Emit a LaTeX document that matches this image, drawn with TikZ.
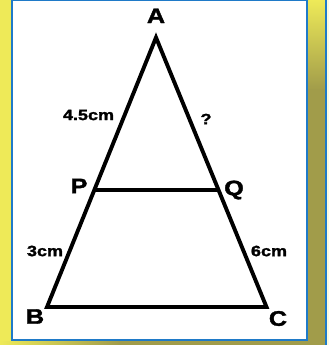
\documentclass[tikz,border=0pt]{standalone}
\usepackage{fontspec}
\setmainfont{Liberation Sans}[BoldFeatures={FakeBold=1.6}]
\usetikzlibrary{calc}
\definecolor{frameblue}{HTML}{1F7AC8}
\definecolor{ylw}{HTML}{EEEA58}
\definecolor{olive}{HTML}{A19C4A}
\tikzset{
  side/.style={line width=3.9pt, line join=miter, black},
  vlabel/.style={inner sep=0pt, font=\fontsize{21}{21}\selectfont\bfseries},
  mlabel/.style={inner sep=0pt, font=\fontsize{15}{15}\selectfont\bfseries},
}
\newcommand{\wide}[1]{\scalebox{1.2}[1]{#1}}
\begin{document}
\begin{tikzpicture}[x=1pt,y=-1pt]
\useasboundingbox (0,0) rectangle (329,345);
% background strips
\fill[ylw] (0,0) rectangle (329,345);
\shade[top color=ylw, bottom color=olive, shading angle=0] (308,0) rectangle (325,90);
\fill[olive] (308,89) rectangle (325,345);
\shade[left color=ylw, right color=olive] (0,341) rectangle (120,345);
\fill[olive] (119,341) rectangle (329,345);
\fill[frameblue] (325,0) rectangle (327,345);
\fill[white!80!ylw] (327,0) rectangle (329,345);
% frame
\fill[white] (12.3,0.5) rectangle (306.6,340);
\draw[frameblue, line width=2pt] (12.3,0.5) rectangle (306.6,340);
% triangle
\coordinate (A) at (156,37.5);
\coordinate (B) at (47,307);
\coordinate (C) at (266.5,307);
\coordinate (P) at ($(A)!0.566!(B)$);
\coordinate (Q) at ($(A)!0.566!(C)$);
\draw[side] (A) -- (B) -- (C) -- cycle;
\draw[side, line width=3.6pt] (P) -- (Q);
% labels
\node[vlabel] (lA) at (156,15.8) {\wide{A}};
\node[vlabel] (lB) at (35,316.5) {\wide{B}};
\node[vlabel] (lC) at (278,318.5) {\wide{C}};
\node[vlabel] (lP) at (79,186) {\wide{P}};
\node[vlabel] (lQ) at (234,190) {\wide{Q}};
\node[mlabel] (l45) at (88.5,115) {\wide{4.5cm}};
\node[mlabel] (lq) at (206,119) {\wide{?}};
\node[mlabel] (l3) at (45,251) {\wide{3cm}};
\node[mlabel] (l6) at (269,251) {\wide{6cm}};
\end{tikzpicture}
\end{document}
